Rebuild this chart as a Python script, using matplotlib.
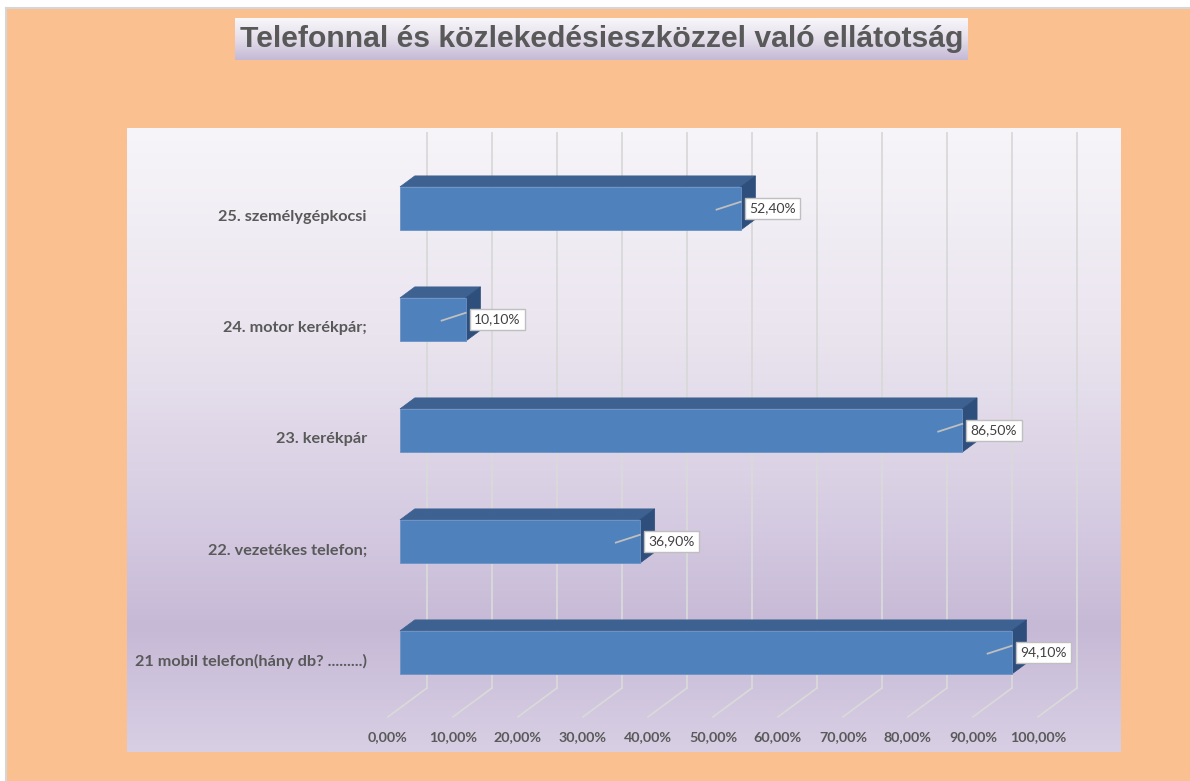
import numpy as np
import matplotlib.pyplot as plt
from matplotlib.patches import Rectangle, Polygon
from matplotlib.lines import Line2D
from matplotlib.colors import LinearSegmentedColormap

# data
categories = ['21 mobil telefon(hány db? .........)', '22. vezetékes telefon;',
              '23. kerékpár', '24. motor kerékpár;', '25. személygépkocsi']
values = [94.1, 36.9, 86.5, 10.1, 52.4]
value_labels = ['94,10%', '36,90%', '86,50%', '10,10%', '52,40%']
ticks = [0, 10, 20, 30, 40, 50, 60, 70, 80, 90, 100]
tick_labels = ['0,00%', '10,00%', '20,00%', '30,00%', '40,00%', '50,00%',
               '60,00%', '70,00%', '80,00%', '90,00%', '100,00%']
title = 'Telefonnal és közlekedésieszközzel való ellátotság'

W, H = 1190, 781
FONT = ['Lato', 'DejaVu Sans']


def px_rect(x0, y0, x1, y1):
    return [x0 / W, 1 - y1 / H, (x1 - x0) / W, (y1 - y0) / H]


def gradient_axes(rect, stops, z=0):
    a = fig.add_axes(rect, zorder=z)
    cmap = LinearSegmentedColormap.from_list('g', stops)
    grad = np.linspace(0, 1, 256).reshape(-1, 1)
    a.imshow(grad, aspect='auto', cmap=cmap, extent=[0, 1, 0, 1], origin='upper')
    a.axis('off')
    return a


fig = plt.figure(figsize=(W / 100, H / 100), dpi=100)
fig.patch.set_facecolor('white')
fig.patches.append(Rectangle((6 / W, 0), 1 - 6 / W, 1 - 8 / H, transform=fig.transFigure,
                             facecolor='#FAC090', edgecolor='none', zorder=-5))
fig.add_artist(Line2D([6 / W, 6 / W], [0, 1 - 8 / H], color='#D6D6D6', lw=1.5))
fig.add_artist(Line2D([6 / W, 1], [1 - 8 / H, 1 - 8 / H], color='#D6D6D6', lw=1.5))

# title box
tb = gradient_axes(px_rect(235, 18, 968, 60),
                   [(0, '#F8F7FA'), (0.5, '#E4DEEA'), (1, '#C4B9D6')], z=1)
tb.text(0.5, 0.5, title, transform=tb.transAxes, ha='center', va='center',
        fontsize=21.7, fontweight='bold', color='#595959', family='Liberation Sans')

# plot area background
plot_rect = px_rect(127, 128, 1121, 752)
gradient_axes(plot_rect, [(0, '#F7F5F9'), (0.35, '#E9E3EE'), (0.62, '#D6CCE2'),
                          (0.8, '#C6B9D6'), (1, '#D8CFE4')], z=1)

ax = fig.add_axes(plot_rect, zorder=2)
ax.set_facecolor('none')
ax.set_xlim((127 - 400) / 6.5, (1121 - 400) / 6.5)
ax.set_ylim((652.5 - 752) / 111, (652.5 - 128) / 111)
ax.axis('off')

# 3d depth (data units), bar front plane is the reference
DX, DY = 6.0, 0.26
f_front, f_back = 0.31, 0.69
bh = 0.39
n = len(categories)

# back wall gridlines + floor lines
wall_bottom = -0.5 + f_back * DY
wall_top = n - 0.5 + f_back * DY
for t in ticks:
    xb = t + f_back * DX
    ax.plot([xb, xb], [wall_bottom, wall_top], color='#D9D9D9', lw=1.3, zorder=1)
    ax.plot([xb, t - f_front * DX], [wall_bottom, -0.5 - f_front * DY],
            color='#D9D9D9', lw=1.3, zorder=1)

bdx = (f_back - f_front) * DX
bdy = (f_back - f_front) * DY
for i, v in enumerate(values):
    y0, y1 = i - bh / 2, i + bh / 2
    ax.add_patch(Polygon([(0, y1), (v, y1), (v + bdx, y1 + bdy), (bdx, y1 + bdy)],
                         closed=True, fc='#3D6190', ec='#3D6190', lw=0.5, zorder=3))
    ax.add_patch(Polygon([(v, y0), (v, y1), (v + bdx, y1 + bdy), (v + bdx, y0 + bdy)],
                         closed=True, fc='#2E4F7C', ec='#2E4F7C', lw=0.5, zorder=3))
    ax.add_patch(Rectangle((0, y0), v, bh, fc='#4F81BD', ec='#6B93C6', lw=0.6, zorder=4))
    # leader line + label
    ax.plot([v - 3.7, v], [i - 0.01, i + 0.06], color='#BFBFBF', lw=1.3, zorder=5)
    ax.text(v + 1.3, i, value_labels[i], ha='left', va='center', fontsize=10,
            color='#404040', family=FONT, zorder=6,
            bbox=dict(boxstyle='square,pad=0.32', fc='white', ec='#BFBFBF', lw=1))
    ax.text(-5.1, i - f_front * DY, categories[i], ha='right', va='center',
            fontsize=11.7, fontweight='bold', color='#595959', family=FONT)

for t, lab in zip(ticks, tick_labels):
    ax.text(t - f_front * DX, -0.76, lab, ha='center', va='center', fontsize=10.3,
            fontweight='bold', color='#595959', family=FONT)

fig.savefig('out.png', dpi=100)
